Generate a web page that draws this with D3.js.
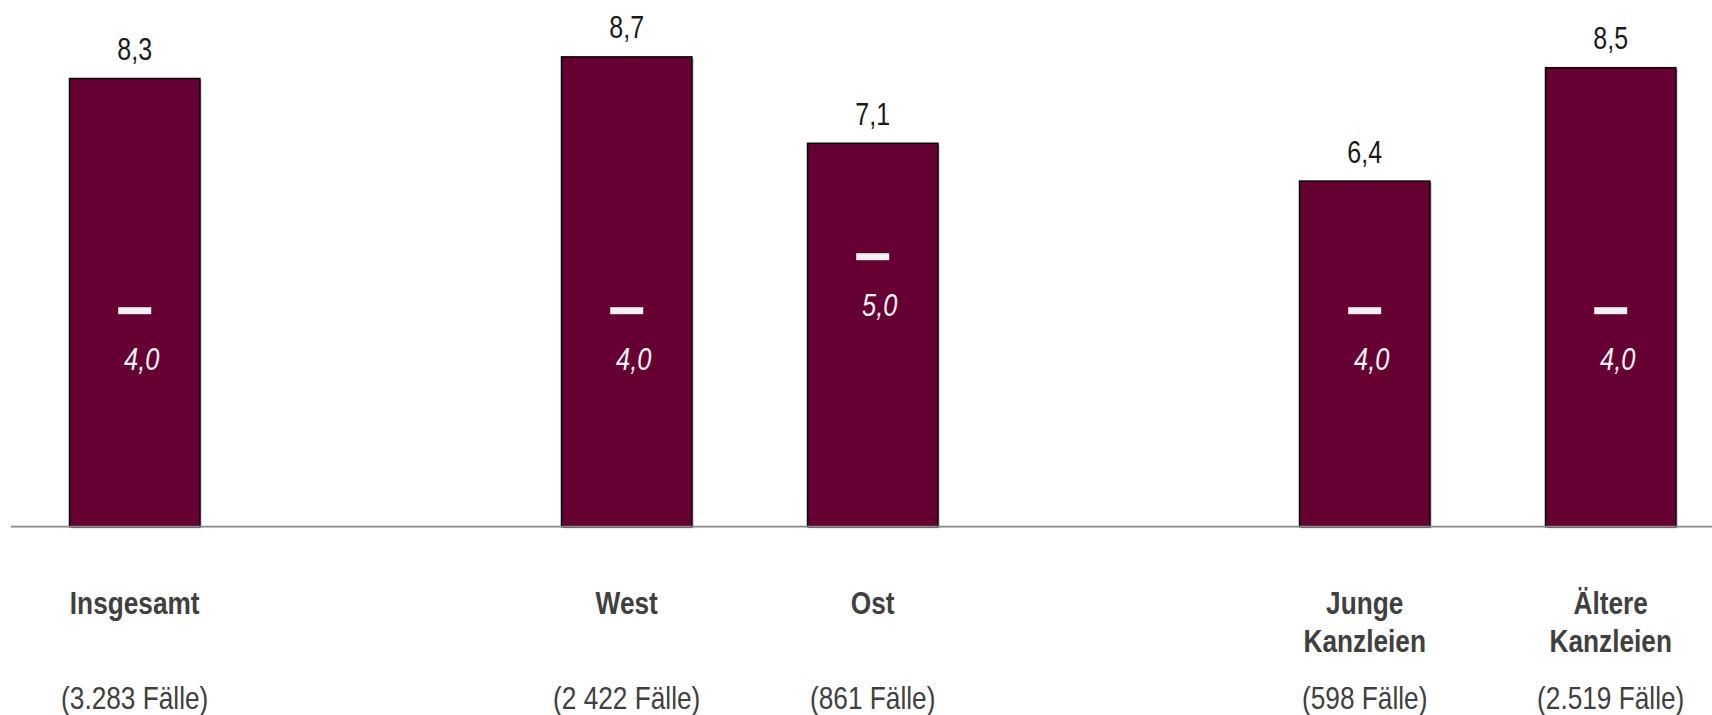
<!DOCTYPE html>
<html>
<head>
<meta charset="utf-8">
<script src="https://cdn.jsdelivr.net/npm/d3@7"></script>
<style>
  html, body { margin: 0; padding: 0; background: #ffffff; }
  svg { display: block; }
</style>
</head>
<body>
<svg id="chart" width="1712" height="715"></svg>
<script>
// ---- data ----
const categories = ["Insgesamt", "West", "Ost", "Junge Kanzleien", "Ältere Kanzleien"];
const categoryLines = [["Insgesamt"], ["West"], ["Ost"], ["Junge", "Kanzleien"], ["Ältere", "Kanzleien"]];
const caseLabels = ["(3.283 Fälle)", "(2 422 Fälle)", "(861 Fälle)", "(598 Fälle)", "(2.519 Fälle)"];
const meanValues = [8.3, 8.7, 7.1, 6.4, 8.5];
const medianValues = [4.0, 4.0, 5.0, 4.0, 4.0];
const slots = ["Insgesamt", "gap1", "West", "Ost", "gap2", "Junge Kanzleien", "Ältere Kanzleien"];

// ---- setup ----
const W = 1712, H = 715;
const baseY = 526.7;
const FONT = "'Liberation Sans Narrow', 'Liberation Sans', Arial, sans-serif";
const NARROW = 0.82;
const svg = d3.select("#chart");

const x = d3.scaleBand()
  .domain(slots)
  .range([11.7, 1733.7])
  .paddingInner(0.47)
  .paddingOuter(0.235);

const y = d3.scaleLinear().domain([0, 10]).range([baseY, baseY - 540]);

const locale = d3.formatLocale({ decimal: ",", thousands: ".", grouping: [3], currency: ["", "€"] });
const fmt = locale.format(".1f");

const data = categories.map((c, i) => ({
  cat: c, lines: categoryLines[i], cases: caseLabels[i],
  mean: meanValues[i], median: medianValues[i]
}));

const bw = x.bandwidth();
const cx = d => x(d.cat) + bw / 2;
const narrowAt = (px, py) => `translate(${px},${py}) scale(${NARROW},1)`;

// shadows
svg.append("g").selectAll("rect").data(data).join("rect")
  .attr("x", d => x(d.cat) + 1.5)
  .attr("y", d => y(d.mean) + 1.5)
  .attr("width", bw)
  .attr("height", d => baseY - y(d.mean))
  .attr("fill", "#9a9a9a");

// bars
svg.append("g").selectAll("rect").data(data).join("rect")
  .attr("x", d => x(d.cat))
  .attr("y", d => y(d.mean))
  .attr("width", bw)
  .attr("height", d => baseY - y(d.mean))
  .attr("fill", "#660033")
  .attr("stroke", "#000")
  .attr("stroke-width", 1.5);

// axis baseline
svg.append("line")
  .attr("x1", 11).attr("x2", W)
  .attr("y1", baseY).attr("y2", baseY)
  .attr("stroke", "#888888")
  .attr("stroke-width", 1.7);

// value labels
svg.append("g").selectAll("text").data(data).join("text")
  .attr("transform", d => narrowAt(cx(d), y(d.mean) - 18.5))
  .attr("text-anchor", "middle")
  .attr("font-family", FONT)
  .attr("font-size", 30.5)
  .attr("fill", "#1a1a1a")
  .text(d => fmt(d.mean));

// median markers
svg.append("g").selectAll("rect").data(data).join("rect")
  .attr("x", d => cx(d) - 16.5)
  .attr("y", d => y(d.median) - 3.5)
  .attr("width", 33)
  .attr("height", 7)
  .attr("fill", "#f2f2f2");

// median labels
svg.append("g").selectAll("text").data(data).join("text")
  .attr("transform", d => narrowAt(cx(d) + 7, y(d.median) + 59))
  .attr("text-anchor", "middle")
  .attr("font-family", FONT)
  .attr("font-style", "italic")
  .attr("font-weight", 300)
  .attr("font-size", 31)
  .attr("fill", "#f4f4f4")
  .text(d => fmt(d.median));

// category labels
const catG = svg.append("g").selectAll("text").data(data).join("text")
  .attr("transform", d => narrowAt(cx(d), 614))
  .attr("text-anchor", "middle")
  .attr("font-family", FONT)
  .attr("font-weight", "bold")
  .attr("font-size", 32)
  .attr("fill", "#404040");
catG.selectAll("tspan").data(d => d.lines).join("tspan")
  .attr("x", 0)
  .attr("dy", (t, i) => i === 0 ? 0 : 38)
  .text(t => t);

// case counts
svg.append("g").selectAll("text").data(data).join("text")
  .attr("transform", d => narrowAt(cx(d), 709))
  .attr("text-anchor", "middle")
  .attr("font-family", FONT)
  .attr("font-size", 32)
  .attr("fill", "#404040")
  .text(d => d.cases);
</script>
</body>
</html>
